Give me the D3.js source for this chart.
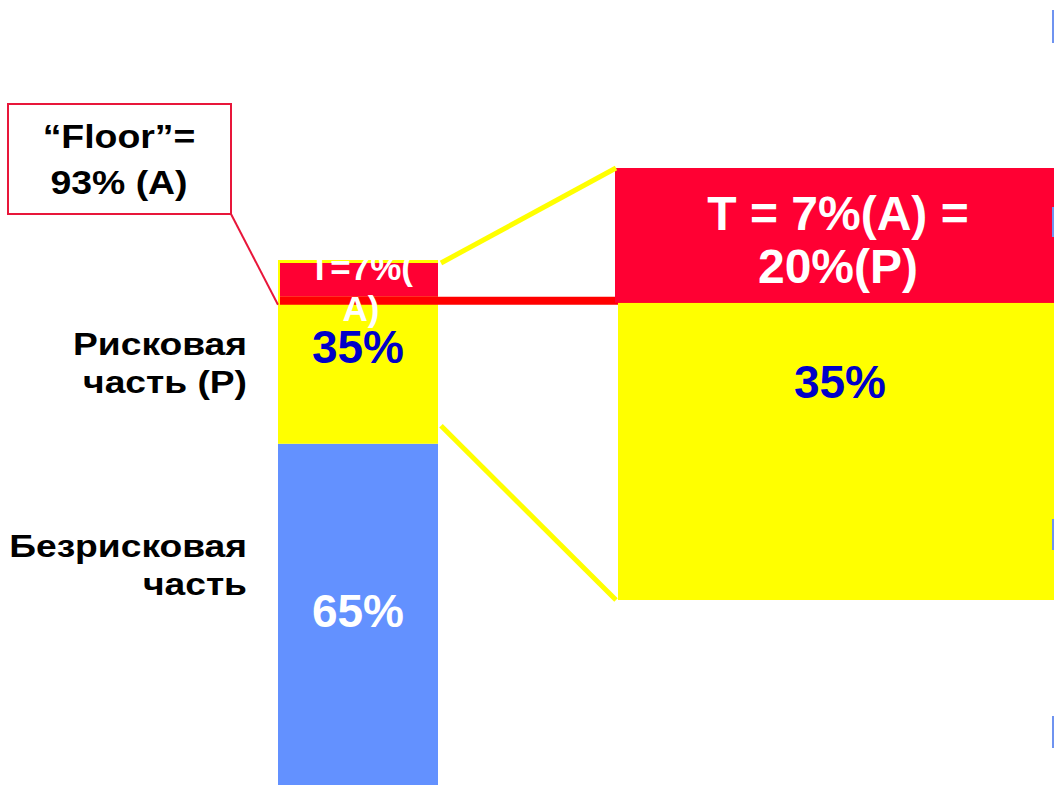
<!DOCTYPE html>
<html>
<head>
<meta charset="utf-8">
<script src="https://cdn.jsdelivr.net/npm/d3@7"></script>
<style>
  html, body { margin: 0; padding: 0; background: #fff; overflow: hidden; }
  text { font-family: "Liberation Sans", Arial, sans-serif; font-weight: bold; }
</style>
</head>
<body>
<svg id="chart" width="1054" height="785"></svg>
<script>
// Portfolio split (percent of total assets A)
const categories = ["Безрисковая часть", "Рисковая часть (Р)"];
const categoryKeys = ["safe", "risky"];
const shares = [65, 35];
// Cushion T and floor, percent of A; cushion as percent of the risky part P
const cushionOfA = 7;
const floorOfA = 93;
const cushionOfP = 20;

const W = 1054, H = 785;
const svg = d3.select("#chart");

const colors = {
  safe: "#6391ff",
  risky: "#ffff00",
  cushion: "#ff0033",
  floorLine: "#ff0000",
  callout: "#e8163a",
  blueText: "#0000c8",
  edge: "#6f93f0"
};

// Main bar: value axis 0..100 % of A
const y = d3.scaleLinear().domain([0, 100]).range([H, 260]);
const x = d3.scaleBand().domain(["A"]).range([278, 438]).padding(0);
const barX = x("A"), barW = x.bandwidth();

const row = { safe: shares[0], risky: shares[1] };
const stacked = d3.stack().keys(categoryKeys)([row]);

svg.append("g").selectAll("rect")
  .data(stacked)
  .join("rect")
  .attr("x", barX)
  .attr("width", barW)
  .attr("y", d => y(d[0][1]))
  .attr("height", d => y(d[0][0]) - y(d[0][1]))
  .attr("fill", d => colors[d.key]);

const yFloor = y(floorOfA);
const lineW = 8;

// Floor line running across from the bar into the magnified panel
svg.append("rect")
  .attr("x", barX + 2).attr("y", yFloor)
  .attr("width", W - barX - 2).attr("height", lineW)
  .attr("fill", colors.floorLine);

// Cushion T on top of the bar (floor .. 100)
svg.append("rect")
  .attr("x", barX + 2).attr("y", y(100) + 3)
  .attr("width", barW - 2).attr("height", yFloor - y(100) - 3)
  .attr("fill", colors.cushion);

// Magnified view of the risky part
const panel = { left: 615, top: 168, bottom: 600 };
const pRed = yFloor + lineW - 2;
svg.append("rect")
  .attr("x", panel.left + 3).attr("y", pRed)
  .attr("width", W - panel.left - 3).attr("height", panel.bottom - pRed)
  .attr("fill", colors.risky);
svg.append("rect")
  .attr("x", panel.left).attr("y", panel.top)
  .attr("width", W - panel.left).attr("height", pRed - panel.top)
  .attr("fill", colors.cushion);

// Connector lines from the bar's risky part to the panel
const connectors = [
  [[barX + barW + 3, y(100) + 3], [panel.left + 1, panel.top]],
  [[barX + barW + 3, y(shares[0]) - 18], [panel.left + 1, panel.bottom]]
];
svg.append("g").selectAll("line")
  .data(connectors)
  .join("line")
  .attr("x1", d => d[0][0]).attr("y1", d => d[0][1])
  .attr("x2", d => d[1][0]).attr("y2", d => d[1][1])
  .attr("stroke", colors.risky)
  .attr("stroke-width", 5);

// Labels inside the bar
const cx = barX + barW / 2;
const tTop = y(100) + 3;
svg.append("text").attr("x", cx + 3).attr("y", tTop + 17)
  .attr("text-anchor", "middle").attr("font-size", 35).attr("fill", "#fff")
  .text(`T=${cushionOfA}%(`);
svg.append("text").attr("x", cx + 3).attr("y", tTop + 58)
  .attr("text-anchor", "middle").attr("font-size", 35).attr("fill", "#fff")
  .text("A)");
svg.append("text").attr("x", cx).attr("y", yFloor + 66)
  .attr("text-anchor", "middle").attr("font-size", 46).attr("fill", colors.blueText)
  .text(`${shares[1]}%`);
svg.append("text").attr("x", cx).attr("y", (y(shares[0]) + y(0)) / 2 + 13)
  .attr("text-anchor", "middle").attr("font-size", 46).attr("fill", "#fff")
  .text(`${shares[0]}%`);

// Category labels on the left (slightly wide lettering)
const catLines = [
  { lines: ["Безрисковая", "часть"], y: 557 },
  { lines: ["Рисковая", "часть (Р)"], y: 355 }
];
catLines.forEach(c => {
  c.lines.forEach((t, i) => {
    svg.append("text")
      .attr("transform", `translate(247,${c.y + i * 38}) scale(1.2,1)`)
      .attr("text-anchor", "end").attr("font-size", 31).attr("fill", "#000")
      .text(t);
  });
});

// Panel labels
const pcx = 838;
svg.append("text").attr("x", pcx).attr("y", 230)
  .attr("text-anchor", "middle").attr("font-size", 48).attr("fill", "#fff")
  .text(`T = ${cushionOfA}%(A) =`);
svg.append("text").attr("x", pcx).attr("y", 283)
  .attr("text-anchor", "middle").attr("font-size", 48).attr("fill", "#fff")
  .text(`${cushionOfP}%(P)`);
svg.append("text").attr("x", 840).attr("y", 398)
  .attr("text-anchor", "middle").attr("font-size", 46).attr("fill", colors.blueText)
  .text(`${shares[1]}%`);

// Floor callout
svg.append("rect")
  .attr("x", 8).attr("y", 104).attr("width", 223).attr("height", 110)
  .attr("fill", "#fff").attr("stroke", colors.callout).attr("stroke-width", 2);
svg.append("line")
  .attr("x1", 231).attr("y1", 214).attr("x2", barX).attr("y2", yFloor + lineW)
  .attr("stroke", colors.callout).attr("stroke-width", 2);
[["\u201CFloor\u201D=", 148], [`${floorOfA}% (A)`, 194]].forEach(([t, ty]) => {
  svg.append("text")
    .attr("transform", `translate(119,${ty}) scale(1.1,1)`)
    .attr("text-anchor", "middle").attr("font-size", 34).attr("fill", "#000")
    .text(t);
});

// Slim markers at the right edge
const edgeMarks = [[10, 43], [207, 237], [519, 550], [716, 748]];
svg.append("g").selectAll("rect")
  .data(edgeMarks)
  .join("rect")
  .attr("x", W - 2).attr("width", 2)
  .attr("y", d => d[0]).attr("height", d => d[1] - d[0])
  .attr("fill", colors.edge);
</script>
</body>
</html>
